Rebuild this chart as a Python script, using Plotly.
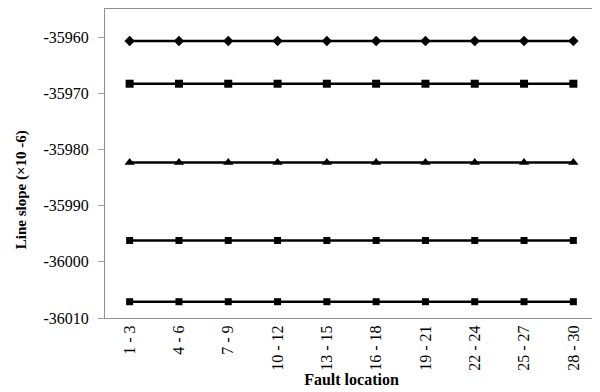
import plotly.graph_objects as go

categories = ["1 - 3", "4 - 6", "7 - 9", "10 - 12", "13 - 15", "16 - 18", "19 - 21", "22 - 24", "25 - 27", "28 - 30"]
series_1 = [-35960.7] * 10
series_2 = [-35968.3] * 10
series_3 = [-35982.3] * 10
series_4 = [-35996.2] * 10
series_5 = [-36007.1] * 10
y_ticks = [-36010, -36000, -35990, -35980, -35970, -35960]
y_tick_labels = ["-36010", "-36000", "-35990", "-35980", "-35970", "-35960"]

series = [
    (series_1, "diamond", 8),
    (series_2, "square", 8),
    (series_3, "triangle-up", 9),
    (series_4, "square", 7),
    (series_5, "square", 7),
]

fig = go.Figure()
for vals, sym, sz in series:
    fig.add_trace(go.Scatter(
        x=categories, y=vals, mode="lines+markers",
        line=dict(color="black", width=2.5),
        marker=dict(symbol=sym, size=sz, color="black"),
        showlegend=False,
    ))

font_family = "Liberation Serif"
# page body has an 8px default margin, so the figure is sized to fit the 600x392 window
fig.update_layout(
    width=592, height=384,
    margin=dict(l=97, r=2, t=1, b=74),
    paper_bgcolor="white", plot_bgcolor="white",
    font=dict(family=font_family, size=16, color="black"),
)
fig.update_xaxes(
    type="category", range=[-0.5, 9.5], automargin=False,
    tickangle=-90, tickfont=dict(family=font_family, size=16),
    showline=True, linecolor="#909090", linewidth=1, mirror=True,
    showgrid=False, ticks="",
    title=dict(text="<b>Fault location</b>", font=dict(family=font_family, size=16), standoff=2),
)
fig.update_yaxes(
    range=[-36010, -35955.0], tickvals=y_ticks, ticktext=y_tick_labels, automargin=False,
    tickfont=dict(family=font_family, size=16),
    showline=True, linecolor="#909090", linewidth=1, mirror=True,
    showgrid=False, ticks="outside", ticklen=6, tickcolor="#a0a0a0",
    ticklabelstandoff=6,
)
fig.add_annotation(
    text="<b>Line slope (×10 -6)</b>", textangle=-90,
    xref="paper", yref="paper", x=-0.170, y=0.414,
    xanchor="center", yanchor="middle", showarrow=False,
    font=dict(family=font_family, size=15, color="black"),
)
fig.write_html("out.html")
